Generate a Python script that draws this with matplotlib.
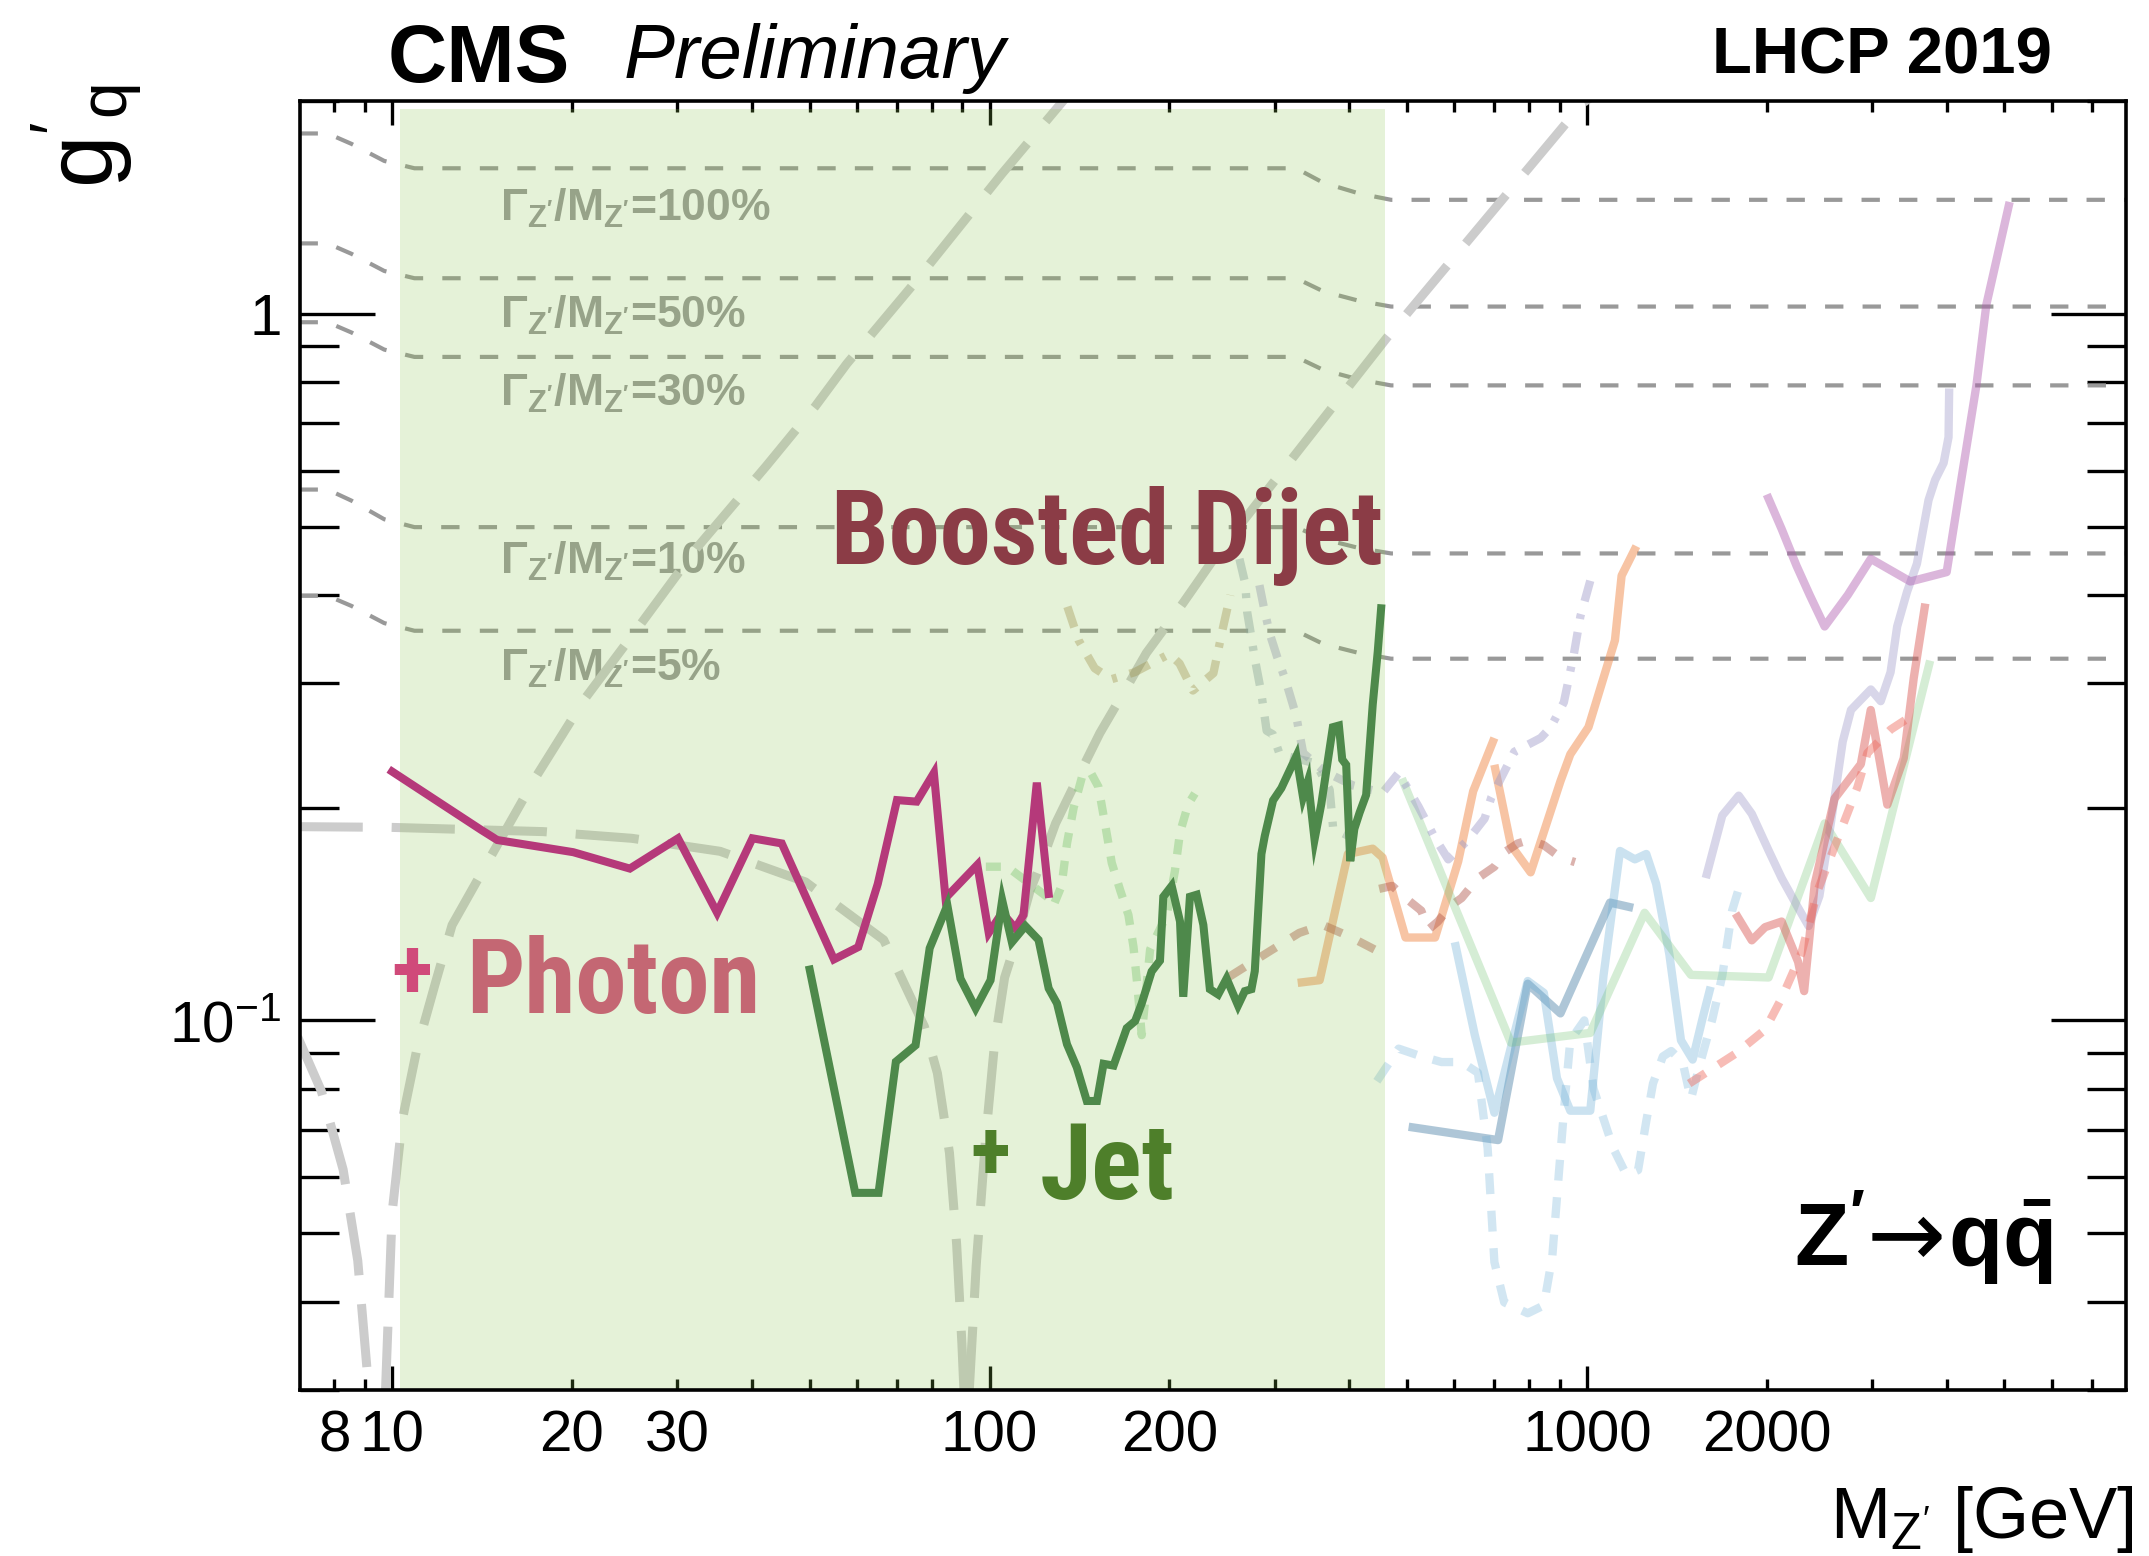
import matplotlib
matplotlib.use("Agg")
import matplotlib.pyplot as plt
from matplotlib import font_manager
from matplotlib.ticker import FixedLocator, FuncFormatter

# ---------------------------------------------------------------- data
# Boosted dijet + photon limit (mass in GeV, coupling g'_q)
photon_mass = [10, 14.1, 15.0, 20.1, 25.0, 30.1, 35.0, 40.1, 44.9, 54.9, 60.3, 65.0,
               70.0, 75.5, 80.7, 84.4, 95.4, 99.7, 105, 110.5, 114, 120, 125.6]
photon_g = [0.225, 0.186, 0.180, 0.173, 0.164, 0.181, 0.142, 0.181, 0.178, 0.122, 0.127,
            0.156, 0.205, 0.204, 0.224, 0.149, 0.166, 0.133, 0.142, 0.135, 0.141, 0.217,
            0.151]

# Boosted dijet + jet limit
jet_mass = [50, 59.6, 65.2, 69.7, 75.2, 79.4, 85.0, 89.4, 94.8, 100.4, 105, 109, 114.8,
            120.8, 125.6, 129.7, 134.8, 140, 145.5, 151.3, 155.2, 161.3, 169.7, 175.3,
            179.8, 186.8, 192.9, 195.4, 201.8, 208.4, 211, 216.5, 222.2, 228, 233.8,
            241.4, 249.4, 260.6, 267.5, 274.4, 278, 285.2, 288.9, 298.3, 308, 326.3,
            334.8, 341.3, 350, 359.2, 375.6, 384.4, 389.4, 395.4, 401.6, 408, 416.3,
            427, 438, 446.6, 452.4]
jet_g = [0.118, 0.057, 0.057, 0.0874, 0.0922, 0.1265, 0.1455, 0.1146, 0.104, 0.114,
         0.148, 0.129, 0.136, 0.130, 0.111, 0.1057, 0.0925, 0.0858, 0.0769, 0.0769,
         0.0868, 0.0863, 0.0975, 0.0998, 0.1057, 0.1173, 0.1215, 0.1496, 0.155, 0.138,
         0.108, 0.1496, 0.1506, 0.1365, 0.1107, 0.1088, 0.1146, 0.105, 0.110, 0.1107,
         0.1174, 0.172, 0.1824, 0.2048, 0.2132, 0.2366, 0.207, 0.2182, 0.1803, 0.2023,
         0.260, 0.2614, 0.234, 0.230, 0.168, 0.1866, 0.1967, 0.2085, 0.280, 0.333, 0.383]

# Mass window of the boosted dijet searches (shaded) and its coupling extent
band_mass = [10.3, 460]
band_g = [0.03, 1.95]

# Constant Gamma/M contours
width_mass = [7, 7.8, 8.55, 9.7, 10.9, 326, 362, 416, 470, 8000]
width100_g = [1.80, 1.80, 1.74, 1.646, 1.607, 1.607, 1.533, 1.48, 1.45, 1.45]
width50_g = [1.258, 1.258, 1.216, 1.150, 1.123, 1.123, 1.076, 1.043, 1.024, 1.024]
width30_g = [0.973, 0.973, 0.941, 0.890, 0.869, 0.869, 0.833, 0.807, 0.792, 0.792]
width10_g = [0.564, 0.564, 0.544, 0.512, 0.499, 0.499, 0.480, 0.466, 0.458, 0.458]
width5_g = [0.399, 0.399, 0.386, 0.365, 0.356, 0.356, 0.341, 0.331, 0.325, 0.325]
width_labels = ["100%", "50%", "30%", "10%", "5%"]

# Older limits (light grey, long dashes)
older_a_left_mass = [7, 9.9, 17.9, 25.2, 35.4, 49.2, 66.5, 77.8, 81.8, 85.7, 88.1, 89.9, 90.6]
older_a_left_g = [0.188, 0.1876, 0.185, 0.181, 0.1735, 0.157, 0.130, 0.098, 0.0842,
                  0.0649, 0.0482, 0.0349, 0.030]
older_a_right_mass = [92.5, 95, 98.5, 102, 106, 111, 117, 123, 129, 144, 153, 172, 183,
                      211, 240, 463, 986, 1011]
older_a_right_g = [0.030, 0.045, 0.068, 0.093, 0.115, 0.13, 0.153, 0.17, 0.19, 0.23, 0.255,
                   0.302, 0.331, 0.39, 0.456, 0.926, 1.99, 2.02]
older_b_left_mass = [6.95, 7.61, 8.28, 8.76, 9.14]
older_b_left_g = [0.0947, 0.0795, 0.0615, 0.0457, 0.030]
older_b_right_mass = [9.75, 10.0, 10.4, 11.0, 11.8, 12.6, 14.45, 17.4, 21.0, 25.7, 32.4,
                      42.3, 51.1, 57.7, 74.5, 105, 134]
older_b_right_g = [0.030, 0.0534, 0.0723, 0.091, 0.1125, 0.1364, 0.1675, 0.221, 0.285,
                   0.358, 0.467, 0.609, 0.74, 0.85, 1.10, 1.58, 2.02]

# Other searches (faint)
orange_a_mass = [328, 357, 398, 438, 455, 497, 557, 609, 645, 700]
orange_a_g = [0.113, 0.114, 0.172, 0.175, 0.170, 0.131, 0.131, 0.168, 0.211, 0.251]
orange_b_mass = [700, 746, 805, 903, 938, 1006, 1114, 1143, 1210]
orange_b_g = [0.230, 0.177, 0.162, 0.218, 0.238, 0.260, 0.345, 0.426, 0.469]

rose_a_mass = [252, 291, 330, 361, 400, 441]
rose_a_g = [0.1153, 0.1245, 0.133, 0.1365, 0.1315, 0.126]
rose_b_mass = [449, 472, 497, 528, 543, 563, 593, 617, 657, 700, 728, 766, 800, 847, 903, 955]
rose_b_g = [0.1535, 0.155, 0.149, 0.143, 0.1345, 0.138, 0.1455, 0.149, 0.159, 0.165,
            0.173, 0.178, 0.180, 0.177, 0.170, 0.1675]

steel_mass = [503, 710, 796, 903, 1093, 1195]
steel_g = [0.0707, 0.0677, 0.1127, 0.1023, 0.1468, 0.1443]

lightblue_mass = [601, 649, 700, 796, 847, 891, 938, 1013, 1066, 1136, 1203, 1257, 1306,
                  1374, 1437, 1503, 1561, 1611]
lightblue_g = [0.129, 0.0954, 0.074, 0.1137, 0.1094, 0.0828, 0.0745, 0.0745, 0.1157,
               0.1737, 0.169, 0.172, 0.156, 0.124, 0.0937, 0.088, 0.1005, 0.1116]

lightblue_dash_mass = [445, 484, 529, 571, 617, 657, 682, 700, 727, 796, 847, 875, 897,
                       920, 938, 990, 1026, 1107, 1165, 1218, 1257, 1290, 1340, 1384, 1446,
                       1493, 1541, 1622, 1685, 1750, 1795]
lightblue_dash_g = [0.082, 0.0912, 0.0889, 0.0873, 0.0873, 0.0843, 0.066, 0.0455, 0.0399,
                    0.0385, 0.0395, 0.0463, 0.0604, 0.0785, 0.0937, 0.100, 0.080, 0.0659,
                    0.0604, 0.0614, 0.0720, 0.0814, 0.0889, 0.0905, 0.0873, 0.0773,
                    0.0859, 0.1005, 0.1157, 0.143, 0.1535]

lightgreen_mass = [490, 746, 1013, 1249, 1493, 2014, 2500, 2987, 3754]
lightgreen_g = [0.22, 0.093, 0.096, 0.142, 0.116, 0.115, 0.190, 0.149, 0.323]

dotted_mass = [98.6, 107, 125.6, 128, 132, 134.8, 138.3, 142.8, 147.4, 152.2, 156.2,
               160.2, 165.4, 170.8, 174.2, 176.8, 179.8, 185.7, 198, 204.3, 208.4, 215.1,
               220.7]
dotted_g = [0.165, 0.165, 0.149, 0.1455, 0.155, 0.178, 0.2, 0.221, 0.225, 0.214, 0.189,
            0.167, 0.153, 0.141, 0.127, 0.112, 0.0953, 0.126, 0.141, 0.1626, 0.1845,
            0.2023, 0.2095]

khaki_mass = [135, 141, 150, 160, 175, 200, 208, 219, 237, 246, 253]
khaki_g = [0.385, 0.345, 0.315, 0.304, 0.311, 0.33, 0.32, 0.293, 0.31, 0.36, 0.40]

greyblue_mass = [262, 268, 270, 274, 278, 285, 291, 298, 306, 352, 371, 376, 401]
greyblue_g = [0.45, 0.415, 0.378, 0.351, 0.325, 0.291, 0.257, 0.254, 0.238, 0.231, 0.212,
              0.187, 0.182]

lavender_dd_mass = [283, 289, 295, 303, 313, 326, 335, 364, 406, 455, 484, 522, 557, 586,
                    632, 674, 692, 756, 837, 870, 915, 951, 975, 1013]
lavender_dd_g = [0.413, 0.378, 0.351, 0.327, 0.303, 0.270, 0.239, 0.225, 0.215, 0.210,
                 0.224, 0.201, 0.181, 0.169, 0.180, 0.193, 0.207, 0.240, 0.251, 0.260,
                 0.282, 0.330, 0.373, 0.419]

lavender_mass = [1581, 1685, 1795, 1888, 2014, 2118, 2250, 2350, 2450, 2560, 2680, 2767,
                 2987, 3103, 3223, 3306, 3434, 3568, 3731, 3827, 3954, 4030, 4040]
lavender_g = [0.159, 0.195, 0.208, 0.196, 0.174, 0.159, 0.145, 0.136, 0.150, 0.190, 0.248,
              0.275, 0.294, 0.283, 0.311, 0.361, 0.404, 0.443, 0.545, 0.582, 0.615, 0.669,
              0.784]

orchid_mass = [2000, 2118, 2243, 2360, 2500, 2733, 2987, 3478, 4001, 4210, 4487, 4662, 5100]
orchid_g = [0.555, 0.496, 0.440, 0.400, 0.361, 0.400, 0.450, 0.418, 0.431, 0.566, 0.792,
            1.03, 1.44]

red_mass = [1773, 1888, 1987, 2118, 2257, 2310, 2406, 2597, 2733, 2874, 2986, 3183, 3391,
            3524, 3685]
red_g = [0.1417, 0.1298, 0.1355, 0.138, 0.121, 0.110, 0.156, 0.206, 0.218, 0.2305, 0.275,
         0.202, 0.235, 0.305, 0.389]

reddash_mass = [1483, 1773, 1987, 2118, 2286, 2436, 2630, 2838, 2948, 3224, 3501]
reddash_g = [0.0814, 0.0897, 0.097, 0.1075, 0.1245, 0.153, 0.181, 0.214, 0.239, 0.258, 0.270]

# Axis ticks
x_major = [10, 100, 1000]
x_minor = [8, 9, 20, 30, 40, 50, 60, 70, 80, 90, 200, 300, 400, 500, 600, 700, 800, 900,
           2000, 3000, 4000, 5000, 6000, 7000]
x_minor_labels = {8: "8", 20: "20", 30: "30", 200: "200", 2000: "2000"}
y_major = [0.1, 1]
y_major_labels = {0.1: r"$\mathregular{10^{-1}}$", 1: "1"}
y_minor = [0.03, 0.04, 0.05, 0.06, 0.07, 0.08, 0.09, 0.2, 0.3, 0.4, 0.5, 0.6, 0.7, 0.8, 0.9, 2]

# ---------------------------------------------------------------- style
W, H, DPI = 2149, 1556, 100
names = {f.name for f in font_manager.fontManager.ttflist}
base_font = "Liberation Sans" if "Liberation Sans" in names else "DejaVu Sans"
narrow_font = next((f for f in ["Liberation Sans Narrow", "Roboto Condensed",
                                "Open Sans Condensed"] if f in names), base_font)

plt.rcParams["font.family"] = [base_font, "DejaVu Sans"]
plt.rcParams["mathtext.fontset"] = "custom"
plt.rcParams["mathtext.rm"] = base_font
plt.rcParams["mathtext.it"] = base_font + ":italic"
plt.rcParams["mathtext.bf"] = base_font + ":bold"


def fx(px):
    return px / W


def fy(py):
    return 1 - py / H


fig = plt.figure(figsize=(W / DPI, H / DPI), dpi=DPI)
ax = fig.add_axes([0.1394, 0.1068, 0.8501, 0.8282])
ax.set_xscale("log")
ax.set_yscale("log")

# width contours and their labels (under the shaded window)
for g in (width100_g, width50_g, width30_g, width10_g, width5_g):
    ax.plot(width_mass, g, color="#999999", lw=3.0, dashes=(4.4, 4.6),
            dash_capstyle="butt", zorder=2)
label_base_px = [221, 328, 406, 574, 681]
for lab, yb in zip(width_labels, label_base_px):
    ax.text(fx(500), fy(yb), r"$\mathbf{\Gamma_{Z'}/M_{Z'}}$=" + lab,
            transform=fig.transFigure, fontsize=32, fontweight="bold", color="#9a9a9a",
            ha="left", va="baseline", zorder=2)

# older limits
long_dash = dict(color="#cccccc", lw=6.5, dashes=(7.0, 3.2), dash_capstyle="butt", zorder=2.1)
ax.plot(older_a_left_mass, older_a_left_g, **long_dash)
ax.plot(older_a_right_mass, older_a_right_g, **long_dash)
ax.plot(older_b_left_mass, older_b_left_g, **long_dash)
ax.plot(older_b_right_mass, older_b_right_g, **long_dash)

# other searches
faint = dict(lw=6.0, zorder=2.2, solid_capstyle="butt", dash_capstyle="butt")
dashdot = (2.6, 1.6, 0.6, 1.6)
ax.plot(orange_a_mass, orange_a_g, color="#f08a4b", alpha=0.5, **faint)
ax.plot(orange_b_mass, orange_b_g, color="#f08a4b", alpha=0.5, **faint)
ax.plot(rose_a_mass, rose_a_g, color="#b0564b", alpha=0.45, dashes=(2.2, 2.2), **faint)
ax.plot(rose_b_mass, rose_b_g, color="#b0564b", alpha=0.45, dashes=(2.2, 2.2), **faint)
ax.plot(steel_mass, steel_g, color="#5f8fb0", alpha=0.5, **faint)
ax.plot(lightblue_mass, lightblue_g, color="#6baed6", alpha=0.35, **faint)
ax.plot(lightblue_dash_mass, lightblue_dash_g, color="#6baed6", alpha=0.3,
        dashes=(2.5, 2.0), **faint)
ax.plot(lightgreen_mass, lightgreen_g, color="#74c476", alpha=0.3, **faint)
ax.plot(dotted_mass, dotted_g, color="#74c476", alpha=0.4, dashes=(1.8, 1.6), **faint)
ax.plot(khaki_mass, khaki_g, color="#9c7a3c", alpha=0.35, dashes=dashdot, **faint)
ax.plot(greyblue_mass, greyblue_g, color="#8fa3b0", alpha=0.45, dashes=dashdot, **faint)
ax.plot(lavender_dd_mass, lavender_dd_g, color="#9e9ac8", alpha=0.45, dashes=dashdot, **faint)
ax.plot(lavender_mass, lavender_g, color="#9e9ac8", alpha=0.4, **faint)
ax.plot(orchid_mass, orchid_g, color="#b05fb0", alpha=0.45, **faint)
ax.plot(red_mass, red_g, color="#d9534f", alpha=0.45, **faint)
ax.plot(reddash_mass, reddash_g, color="#ef6b5f", alpha=0.45, dashes=(2.3, 1.9), **faint)

# shaded boosted-dijet window
ax.fill_between(band_mass, band_g[0], band_g[1], color="#8dc44e", alpha=0.22,
                lw=0, zorder=3)

# boosted dijet results
ax.plot(photon_mass, photon_g, color="#b5397a", lw=5.8, solid_joinstyle="miter", zorder=5)
ax.plot(jet_mass, jet_g, color="#4e894b", lw=5.8, solid_joinstyle="miter", zorder=5)

# axes
ax.set_xlim(7, 8000)
ax.set_ylim(0.03, 2.0)
ax.xaxis.set_major_locator(FixedLocator(x_major))
ax.xaxis.set_minor_locator(FixedLocator(x_minor))
ax.xaxis.set_major_formatter(FuncFormatter(lambda v, p: f"{v:g}"))
ax.xaxis.set_minor_formatter(FuncFormatter(lambda v, p: x_minor_labels.get(round(v), "")))
ax.yaxis.set_major_locator(FixedLocator(y_major))
ax.yaxis.set_minor_locator(FixedLocator(y_minor))
ax.yaxis.set_major_formatter(FuncFormatter(lambda v, p: y_major_labels.get(round(v, 3), "")))
ax.yaxis.set_minor_formatter(FuncFormatter(lambda v, p: ""))
ax.tick_params(which="both", direction="in", top=True, right=True, width=2.4,
               labelsize=42, color="black")
ax.tick_params(axis="x", which="major", length=17, pad=14)
ax.tick_params(axis="x", which="minor", length=8, pad=14)
ax.tick_params(axis="y", which="major", length=54, pad=13)
ax.tick_params(axis="y", which="minor", length=28, pad=13)
for sp in ax.spines.values():
    sp.set_linewidth(2.6)
    sp.set_zorder(10)

# header and axis titles
fig.text(fx(388), fy(82), "CMS", fontsize=59, fontweight="bold", ha="left", va="baseline")
fig.text(fx(624), fy(78), "Preliminary", fontsize=55, fontstyle="italic",
         ha="left", va="baseline")
fig.text(fx(2052), fy(73), "LHCP 2019", fontsize=47, fontweight="bold",
         ha="right", va="baseline")
fig.text(fx(2134), fy(1538), r"$\mathregular{M_{Z'}}$ [GeV]", fontsize=52,
         ha="right", va="baseline")
fig.text(fx(30), fy(84), r"$\mathregular{g^{\prime}{}_{q}}$", fontsize=68, rotation=90,
         ha="left", va="top")

renderer = fig.canvas.get_renderer()

# process label, assembled right to left
proc_base = fy(1266)
t_qq = fig.text(fx(2052), proc_base, r"$\mathbf{q\bar{q}}$", fontsize=64,
                ha="right", va="baseline")
x_qq = t_qq.get_window_extent(renderer).x0
t_arrow = fig.text((x_qq - 2) / W, proc_base, "\u2192", family="DejaVu Sans",
                   fontsize=68, ha="right", va="baseline")
x_arrow = t_arrow.get_window_extent(renderer).x0
fig.text((x_arrow - 2) / W, proc_base, r"$\mathbf{Z'}$", fontsize=64,
         ha="right", va="baseline")


# hand-lettered annotations, sized to their spans
def fitted(text, left_px, base_px, width_px, color):
    t = fig.text(fx(left_px), fy(base_px), text, fontsize=60, family=narrow_font,
                 fontweight="bold", color=color, ha="left", va="baseline", zorder=6)
    w = t.get_window_extent(renderer).width
    t.set_fontsize(60 * width_px / w)
    return t


def fitted_plus(left_px, center_px, width_px, color):
    t = fitted("+", left_px, center_px, width_px, color)
    em = t.get_fontsize() * DPI / 72.0
    t.set_y(fy(center_px + 0.355 * em))
    return t


fitted("Boosted Dijet", 831, 564, 552, "#8b3c46")
fitted_plus(391, 967, 41, "#d04a7a")
fitted("Photon", 466, 1013, 294, "#c46773")
fitted_plus(970, 1149, 40, "#4e7f2a")
fitted("Jet", 1040, 1199, 135, "#4e7f2a")

fig.savefig("out.png", dpi=DPI)
